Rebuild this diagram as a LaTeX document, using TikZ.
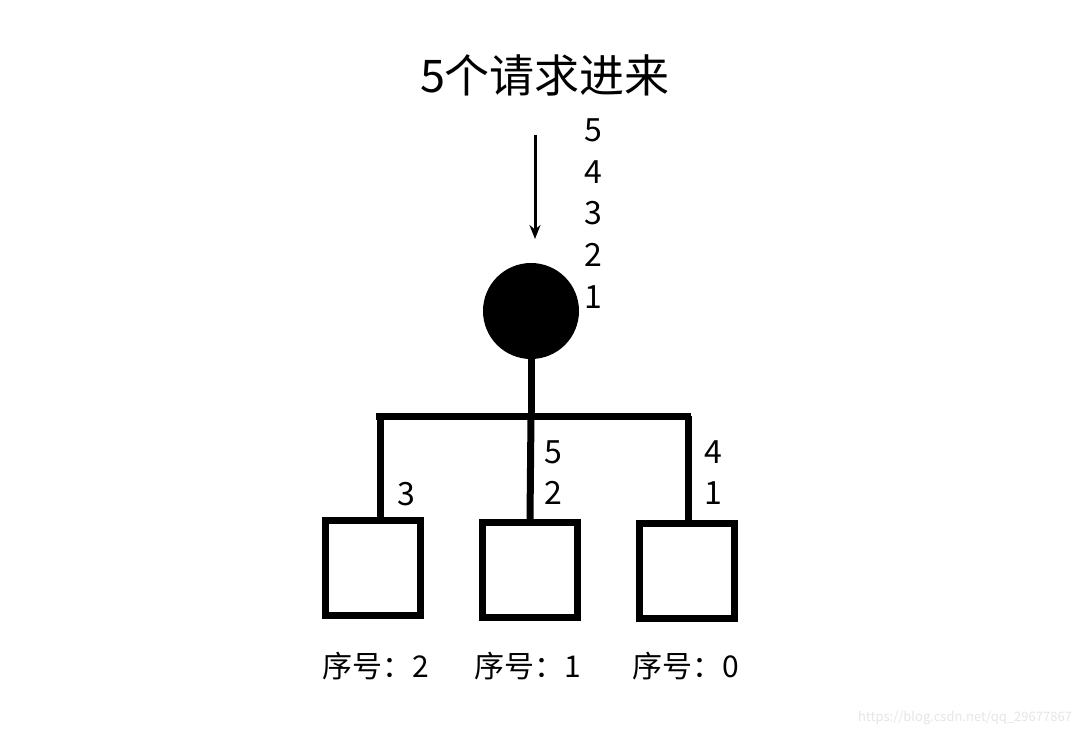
\documentclass[tikz,border=0pt]{standalone}
\usepackage{fontspec}
\setmainfont{Noto Sans CJK SC}
\usetikzlibrary{arrows.meta}
\begin{document}
\begin{tikzpicture}[x=1pt,y=-1pt,
  thick line/.style={line width=7pt},
  box/.style={draw,line width=7pt,minimum width=95pt,minimum height=95pt,inner sep=0pt},
  num/.style={font=\fontsize{32}{32}\selectfont,inner sep=0pt},
  lab/.style={font=\fontsize{30}{30}\selectfont,inner sep=0pt}]
\useasboundingbox (0,0) rectangle (1080,737);
\node[font=\fontsize{45}{45}\selectfont,inner sep=0pt] (title) at (545,75) {5个请求进来};
\coordinate (arrS) at (535,135);
\coordinate (arrE) at (535,239);
\draw[line width=3pt,-{Stealth[length=14pt,width=11pt]}] (arrS) -- (arrE);
\node[num] (q5) at (593,130) {5};
\node[num] (q4) at (593,172) {4};
\node[num] (q3) at (593,213) {3};
\node[num] (q2) at (593,255) {2};
\node[num] (q1) at (593,297) {1};
\node[circle,fill=black,minimum size=96pt,inner sep=0pt] (lb) at (531,311) {};
\node[box] (b2) at (373,568) {};
\node[box] (b1) at (530,570) {};
\node[box] (b0) at (687,571) {};
\coordinate (hm) at (531,416);
\coordinate (hl) at (380,416);
\coordinate (hr) at (688,416);
\draw[thick line] (lb.south) -- (hm);
\draw[thick line] (376,416) -- (691,416);
\draw[thick line] (hl) -- (hl |- b2.north);
\draw[thick line] (hm) -- (b1.north);
\draw[thick line] (hr) -- (hr |- b0.north);
\node[num] (l3) at (406,494) {3};
\node[num] (m5) at (553,452) {5};
\node[num] (m2) at (553,493) {2};
\node[num] (r4) at (713,452) {4};
\node[num] (r1) at (713,493) {1};
\node[lab] (t2) at (376,666) {序号：2};
\node[lab] (t1) at (528,666) {序号：1};
\node[lab] (t0) at (686,666) {序号：0};
\node[font=\fontsize{13}{13}\selectfont,text=black!10,inner sep=0pt] (wm) at (965,718) {https://blog.csdn.net/qq\_29677867};
\end{tikzpicture}
\end{document}
